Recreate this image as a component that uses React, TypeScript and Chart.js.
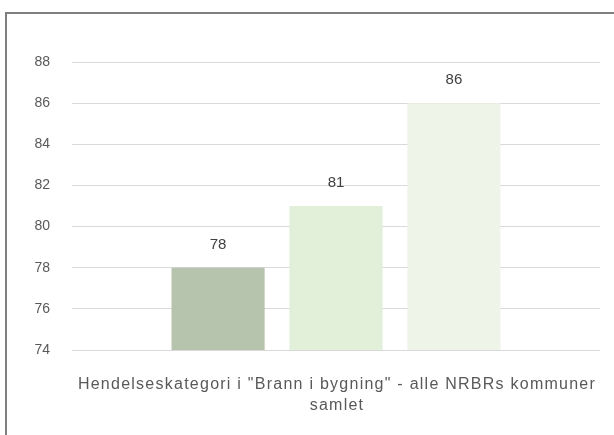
import React, { useEffect, useRef } from "react";
import { Chart, registerables } from "chart.js";

Chart.register(...registerables);

const categories: string[][] = [
  ['Hendelseskategori i "Brann i bygning" - alle NRBRs kommuner', "samlet"],
];
const seriesNames = ["Serie 1", "Serie 2", "Serie 3"];
const seriesValues = [[78], [81], [86]];
const seriesColors = ["#b6c4ad", "#e2efd9", "#eef5e8"];
const yMin = 74;
const yMax = 88;
const yStep = 2;

const FONT = '"Liberation Sans", Arial, sans-serif';

const customText = {
  id: "customText",
  afterDatasetsDraw(chart: any) {
    const ctx = chart.ctx;
    ctx.save();
    ctx.font = `15px ${FONT}`;
    ctx.fillStyle = "#404040";
    ctx.textAlign = "center";
    ctx.textBaseline = "alphabetic";
    chart.data.datasets.forEach((ds: any, i: number) => {
      const meta = chart.getDatasetMeta(i);
      meta.data.forEach((el: any, j: number) => {
        ctx.fillText(String(ds.data[j]), el.x, el.y - 19);
      });
    });
    // category labels
    const xs = chart.scales.x;
    ctx.font = `16px ${FONT}`;
    ctx.fillStyle = "#595959";
    (ctx as any).letterSpacing = "1.25px";
    chart.data.labels.forEach((lab: any, i: number) => {
      const cx = xs.getPixelForValue(i);
      const lines = Array.isArray(lab) ? lab : [lab];
      lines.forEach((ln: string, k: number) => {
        ctx.fillText(ln, cx + 1, xs.top + 39 + k * 21);
      });
    });
    ctx.restore();
  },
};

export default function App() {
  const ref = useRef<HTMLCanvasElement>(null);
  useEffect(() => {
    if (!ref.current) return;
    const chart = new Chart(ref.current, {
      type: "bar",
      data: {
        labels: categories as any,
        datasets: seriesNames.map((n, i) => ({
          label: n,
          data: seriesValues[i],
          backgroundColor: seriesColors[i],
          borderWidth: 0,
          categoryPercentage: 0.67,
          barPercentage: 0.79,
        })),
      },
      options: {
        animation: false,
        responsive: false,
        maintainAspectRatio: false,
        layout: { padding: { top: 62, right: 14, bottom: 0, left: 0 } },
        plugins: { legend: { display: false }, tooltip: { enabled: false } },
        scales: {
          x: {
            grid: { display: false, drawTicks: false },
            border: { display: false },
            ticks: { display: false },
            afterFit: (s: any) => {
              s.height = 85;
            },
          },
          y: {
            min: yMin,
            max: yMax,
            grid: { color: "#d9d9d9", lineWidth: 1, drawTicks: false },
            border: { display: false },
            afterFit: (s: any) => {
              s.width = 72;
            },
            ticks: {
              stepSize: yStep,
              padding: 22,
              color: "#595959",
              font: { family: FONT, size: 14 },
            },
          },
        },
      },
      plugins: [customText],
    });
    return () => chart.destroy();
  }, []);
  return (
    <div style={{ position: "fixed", left: 0, top: 0, width: 614, height: 435, background: "#ffffff", overflow: "hidden" }}>
      <div
        style={{
          position: "absolute",
          left: 5,
          top: 12,
          width: 700,
          height: 500,
          borderLeft: "2px solid #7f7f7f",
          borderTop: "2px solid #7f7f7f",
        }}
      />
      <canvas ref={ref} width={614} height={435} style={{ position: "absolute", left: 0, top: 0 }} />
    </div>
  );
}
